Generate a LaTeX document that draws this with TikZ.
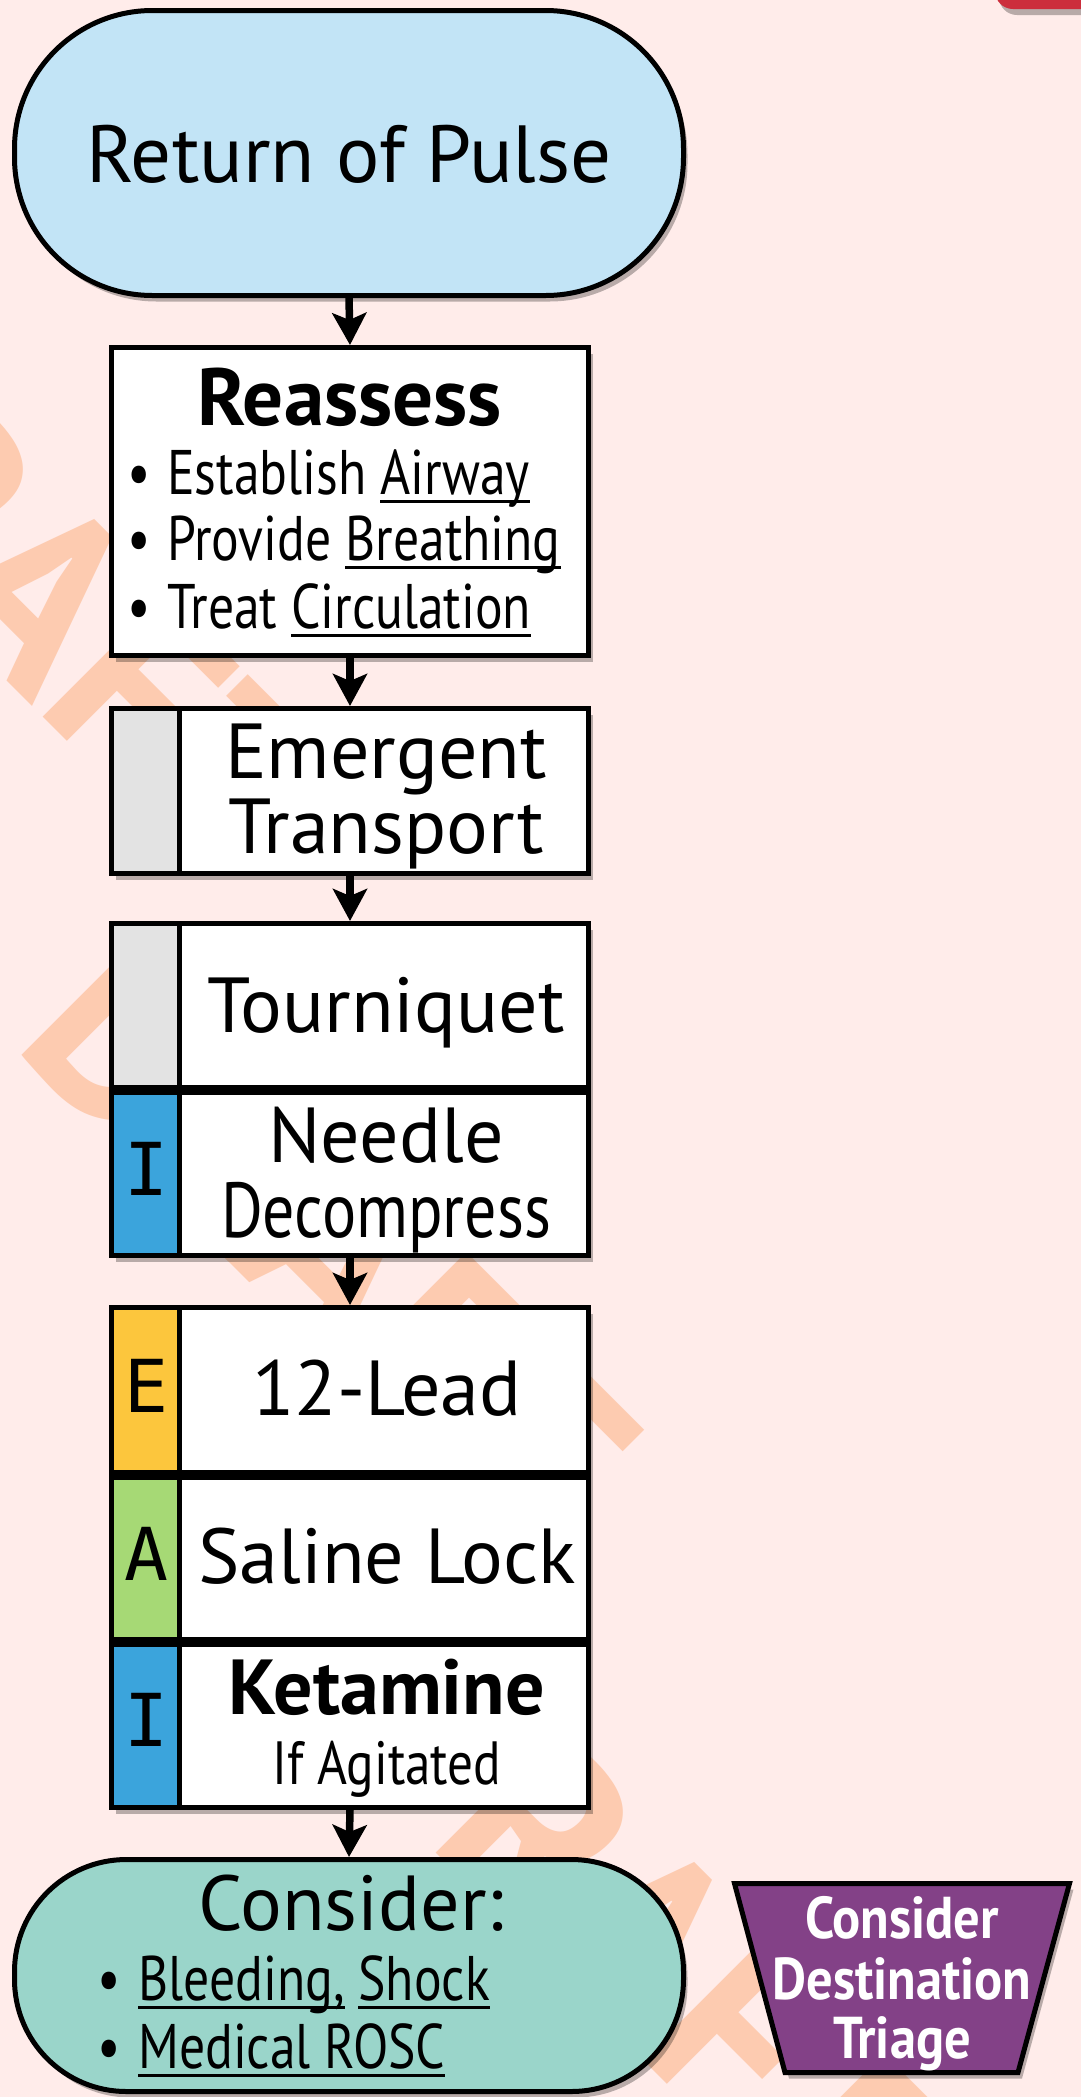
\documentclass[tikz,border=0pt]{standalone}
\usepackage{fontspec}
\setmainfont{PT Sans}
\newfontfamily\stripfont{DejaVu Sans Mono}
\newfontfamily\narrowA[FakeStretch=0.82]{PT Sans}
\newfontfamily\narrowB[FakeStretch=0.84]{PT Sans}
\newfontfamily\narrowC[FakeStretch=0.89]{PT Sans}
\newsavebox{\ulbox}
\newcommand{\ulx}[1]{\sbox\ulbox{#1}\rlap{\rule[-8.5pt]{\wd\ulbox}{3pt}}\usebox\ulbox}
\usetikzlibrary{shadows,arrows.meta}
\definecolor{bgc}{HTML}{FFECEA}
\definecolor{wmc}{HTML}{FDCBB0}
\definecolor{ropc}{HTML}{C2E4F6}
\definecolor{consc}{HTML}{9AD5CA}
\definecolor{grayc}{HTML}{E3E3E3}
\definecolor{bluec}{HTML}{3BA4DC}
\definecolor{yelc}{HTML}{FCC63D}
\definecolor{grnc}{HTML}{A6D975}
\definecolor{purc}{HTML}{834187}
\definecolor{redc}{HTML}{CC2E3C}
\newcommand{\setfs}[1]{\fontsize{#1}{#1}\selectfont}
\begin{document}
\begin{tikzpicture}[x=1pt,y=-1pt,
  shad/.style={drop shadow={shadow xshift=4pt,shadow yshift=-6pt,opacity=.28,fill=black}},
  box/.style={draw=black,line width=5pt,fill=white,inner sep=0pt,shad},
  rowbox/.style={draw=black,line width=5pt,fill=white,inner sep=0pt},
  strip/.style={draw=black,line width=5pt,inner sep=0pt,minimum width=68pt},
  txt/.style={inner sep=0pt,anchor=base},
  ltxt/.style={inner sep=0pt,anchor=base west},
  arr/.style={line width=7.5pt,-{Stealth[length=32pt,width=34pt,inset=7pt]}},
  wm/.style={text=wmc,inner sep=0pt,font=\setfs{250}\bfseries,rotate=-45,anchor=base west},
  lett/.style={inner sep=0pt,anchor=base,font=\stripfont\setfs{73}}
]
\useasboundingbox (0,0) rectangle (1081,2097);
\clip (0,0) rectangle (1081,2097);
\fill[bgc] (0,0) rectangle (1081,2097);

% watermark
\node[wm] (wmA) at (-289,385) {DRAFT};
\node[wm] (wmB) at (11,1044) {DRAFT};
\node[wm] (wmC) at (311,1728) {DRAFT};

% top-right red shape
\node[fill=redc,rounded corners=18pt,minimum width=125pt,minimum height=69pt,inner sep=0pt,shad] (red) at (1057.5,-25.5) {};

% Return of Pulse
\node[box,fill=ropc,rounded corners=138pt,minimum width=669pt,minimum height=285pt] (rop) at (349,153) {};
\node[txt,font=\setfs{81}] (roptxt) at (349,182) {Return of Pulse};

% Reassess
\node[box,minimum width=477pt,minimum height=308pt] (reas) at (350,501.5) {};
\node[txt,font=\setfs{81}\bfseries] (reast) at (350,425) {Reassess};
\node[ltxt,font=\narrowA\setfs{63}] (reas1) at (127,494) {\makebox[40pt][l]{•}Establish \ulx{Airway}};
\node[ltxt,font=\narrowA\setfs{63}] (reas2) at (127,560) {\makebox[40pt][l]{•}Provide \ulx{Breathing}};
\node[ltxt,font=\narrowA\setfs{63}] (reas3) at (127,628) {\makebox[40pt][l]{•}Treat \ulx{Circulation}};

% Emergent transport
\node[box,minimum width=477pt,minimum height=165pt] (emer) at (350,791) {};
\node[strip,fill=grayc,minimum height=165pt] (emers) at (145.5,791) {};
\node[txt,font=\setfs{78}] (emer1) at (386,778) {Emergent};
\node[txt,font=\setfs{78}] (emer2) at (386,853) {Transport};

% Tourniquet / Needle
\node[box,minimum width=477pt,minimum height=332pt] (tq) at (350,1089.5) {};
\node[rowbox,minimum width=477pt,minimum height=164pt] (tqrow) at (350,1005.5) {};
\node[rowbox,minimum width=477pt,minimum height=163pt] (ndrow) at (350,1174) {};
\node[strip,fill=grayc,minimum height=164pt] (tqs) at (145.5,1005.5) {};
\node[strip,fill=bluec,minimum height=163pt] (nds) at (145.5,1174) {};
\node[txt,font=\setfs{78}] (tqt) at (386,1032) {Tourniquet};
\node[txt,font=\setfs{78}] (nd1) at (386,1162) {Needle};
\node[txt,font=\narrowA\setfs{78}] (nd2) at (386,1237) {Decompress};
\node[lett] (ndl) at (146,1195) {I};

% E A I block
\node[box,minimum width=477pt,minimum height=500pt] (eai) at (350,1557.5) {};
\node[rowbox,minimum width=477pt,minimum height=165pt] (erow) at (350,1390) {};
\node[rowbox,minimum width=477pt,minimum height=162pt] (arow) at (350,1558.5) {};
\node[rowbox,minimum width=477pt,minimum height=163pt] (irow) at (350,1726) {};
\node[strip,fill=yelc,minimum height=165pt] (es) at (145.5,1390) {};
\node[strip,fill=grnc,minimum height=162pt] (as) at (145.5,1558.5) {};
\node[strip,fill=bluec,minimum height=163pt] (is) at (145.5,1726) {};
\node[lett] (el) at (146,1412) {E};
\node[lett] (al) at (146,1580) {A};
\node[lett] (il) at (146,1746) {I};
\node[txt,font=\setfs{78}] (lead) at (387,1415) {12-Lead};
\node[txt,font=\setfs{78}] (saline) at (387,1583) {Saline Lock};
\node[txt,font=\setfs{78}\bfseries] (ket) at (387,1714) {Ketamine};
\node[txt,font=\narrowB\setfs{61}] (agit) at (387,1784) {If Agitated};

% Consider
\node[box,fill=consc,rounded corners=112pt,minimum width=669pt,minimum height=232pt] (cons) at (349,1975.5) {};
\node[txt,font=\setfs{78}] (const) at (351,1930) {Consider:};
\node[ltxt,font=\narrowA\setfs{63}] (cons1) at (97,2000) {\makebox[41pt][l]{•}\ulx{Bleeding,} \ulx{Shock}};
\node[ltxt,font=\narrowA\setfs{63}] (cons2) at (97,2068) {\makebox[41pt][l]{•}\ulx{Medical ROSC}};

% Destination triage trapezoid
\draw[line width=5pt,fill=purc,shad] (734.5,1883.5) -- (1069.5,1883.5) -- (1018,2072.5) -- (785,2072.5) -- cycle;
\node[txt,text=white,font=\narrowC\setfs{59}\bfseries] (tri1) at (902,1938) {Consider};
\node[txt,text=white,font=\narrowC\setfs{59}\bfseries] (tri2) at (902,1999) {Destination};
\node[txt,text=white,font=\narrowC\setfs{59}\bfseries] (tri3) at (902,2058) {Triage};

% arrows
\draw[arr] (rop.south) -- (reas.north);
\draw[arr] (reas.south) -- (emer.north);
\draw[arr] (emer.south) -- (tq.north);
\draw[arr] (tq.south) -- (eai.north);
\draw[arr] (eai.south) -- (cons.north);
\end{tikzpicture}
\end{document}
